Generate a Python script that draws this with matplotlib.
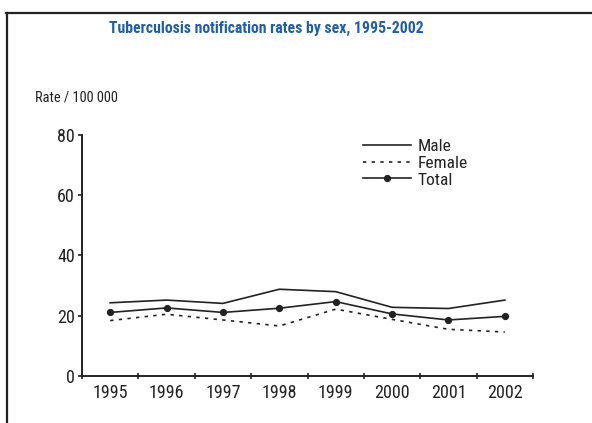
import matplotlib.pyplot as plt
from matplotlib.lines import Line2D
import numpy as np

years = ["1995", "1996", "1997", "1998", "1999", "2000", "2001", "2002"]
male = [24.3, 25.2, 24.1, 28.8, 28.0, 22.8, 22.4, 25.2]
female = [18.4, 20.5, 18.6, 16.6, 22.2, 18.8, 15.5, 14.6]
total = [21.1, 22.6, 21.1, 22.5, 24.7, 20.6, 18.6, 19.8]
y_ticks = [0, 20, 40, 60, 80]

FONT = ["Roboto Condensed", "DejaVu Sans"]
INK = "#222222"


def main() -> None:
    plt.rcParams["font.family"] = FONT

    fig = plt.figure(figsize=(5.92, 4.23), dpi=100)
    W, H = 592, 423
    ax = fig.add_axes([82 / W, 1 - 376 / H, (533 - 82) / W, (376 - 135) / H])

    x = np.arange(len(years))
    ax.plot(x, male, color=INK, lw=1.2, label="Male")
    ax.plot(x, female, color=INK, lw=1.2, ls=(0, (2, 3.2)), label="Female")
    ax.plot(x, total, color=INK, lw=1.2, marker="o", ms=4.2, label="Total")

    ax.set_xlim(-0.5, len(years) - 0.5)
    ax.set_ylim(0, 80)
    ax.set_yticks(y_ticks)
    ax.set_yticklabels([str(v) for v in y_ticks], fontsize=13, color=INK)

    # year labels sit between the tick marks
    ax.set_xticks(np.arange(len(years) + 1) - 0.5)
    ax.set_xticklabels([])
    ax.set_xticks(x, minor=True)
    ax.set_xticklabels(years, minor=True, fontsize=13, color=INK)
    ax.tick_params(axis="x", which="minor", length=0, pad=6)
    ax.tick_params(axis="x", which="major", direction="inout", length=4,
                   width=1.2, color=INK)
    ax.tick_params(axis="y", direction="out", length=3, width=1.2,
                   color=INK, pad=2)

    for side in ["top", "right"]:
        ax.spines[side].set_visible(False)
    for side in ["left", "bottom"]:
        ax.spines[side].set_color(INK)
        ax.spines[side].set_linewidth(1.4)

    ax.legend(
        loc="upper left",
        bbox_to_anchor=(347 / W, 1 - 123 / H),
        bbox_transform=fig.transFigure,
        frameon=False,
        fontsize=12.5,
        handlelength=2.8,
        handletextpad=0.35,
        labelspacing=0.1,
        labelcolor=INK,
    )

    fig.text(266 / W, 1 - 28 / H, "Tuberculosis notification rates by sex, 1995-2002",
             ha="center", va="center", fontsize=11.3, fontweight="bold",
             color="#1f5ea8")
    fig.text(35 / W, 1 - 97 / H, "Rate / 100 000", ha="left", va="center",
             fontsize=10.4, color=INK)

    # frame: top and left rules only
    fig.add_artist(Line2D([6 / W, 1], [1 - 13 / H, 1 - 13 / H],
                          transform=fig.transFigure, color=INK, lw=1.6))
    fig.add_artist(Line2D([7 / W, 7 / W], [0, 1 - 13 / H],
                          transform=fig.transFigure, color=INK, lw=1.6))

    fig.savefig("out.png", dpi=100)
    plt.close(fig)


if __name__ == "__main__":
    main()
